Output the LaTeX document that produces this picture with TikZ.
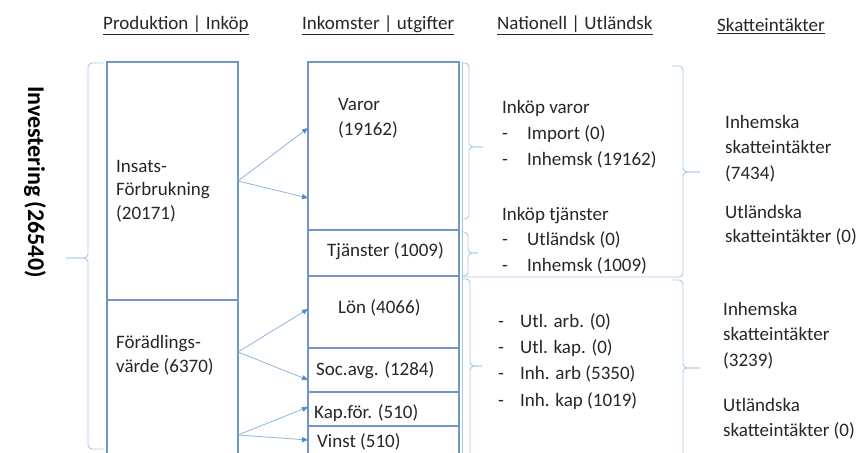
\documentclass[tikz,border=0pt]{standalone}
\usepackage{fontspec}
\setmainfont{Carlito}
\usetikzlibrary{arrows.meta,positioning,calc}
\usepackage{xcolor}

\definecolor{boxblue}{RGB}{112,150,200}
\definecolor{brcblue}{RGB}{168,200,232}
\definecolor{arrblue}{RGB}{140,180,222}
\definecolor{tipblue}{RGB}{80,140,205}
\definecolor{txtgray}{RGB}{38,38,38}

\begin{document}
\begin{tikzpicture}[x=1pt,y=-1pt,
    box/.style={
        draw=boxblue, line width=1.3pt, anchor=north west,
        inner sep=0pt, outer sep=0pt, minimum width=#1
    },
    txt/.style={
        anchor=base west, inner sep=0pt, align=left, text=txtgray,
        font=\fontsize{19}{24}\selectfont
    },
    mtxt/.style={
        txt, anchor=north west, font=\fontsize{19}{#1}\selectfont
    },
    arrow/.style={
        -{Triangle[length=6pt,width=5pt,color=tipblue]}, arrblue, line width=0.8pt
    },
    brc/.style={
        brcblue, line width=0.9pt, rounded corners=4pt
    }
]
\useasboundingbox (0,0) rectangle (858,452);
\clip (0,0) rectangle (858,452);

% Column headers
\node[txt] (hprod) at (103,30) {\underline{Produktion | Inköp}};
\node[txt] (hink) at (302,30) {\underline{Inkomster | utgifter}};
\node[txt] (hnat) at (497,30) {\underline{Nationell | Utländsk}};
\node[txt] (hskatt) at (717,32) {\underline{Skatteintäkter}};

% Left side label
\node[rotate=-90, inner sep=0pt, font=\bfseries\fontsize{24}{28}\selectfont] (inv) at (35,182) {Investering (26540)};

% Production column
\node[box=131pt, minimum height=238pt] (ins) at (107,62) {};
\node[box=131pt, minimum height=170pt] (foe) at (107,300) {};
\node[mtxt=23.5] (insT) at (116,155.5) {\strut Insats-\\Förbrukning\\(20171)};
\node[mtxt=24] (foeT) at (116,331.2) {\strut Förädlings-\\värde (6370)};

% Income / expense column
\node[box=151pt, minimum height=168pt] (var) at (308,62) {};
\node[box=151pt, minimum height=46pt] (tja) at (308,230) {};
\node[box=151pt, minimum height=72pt] (lon) at (308,276) {};
\node[box=151pt, minimum height=44pt] (soc) at (308,348) {};
\node[box=151pt, minimum height=34pt] (kap) at (308,392) {};
\node[box=151pt, minimum height=28pt] (vin) at (308,426) {};
\draw[boxblue!60, line width=0.8pt] (var.north east) ++(3.5,0) -- ++(0,400);

\node[mtxt=25] (varT) at (338,92.5) {\strut Varor\\(19162)};
\node[txt] (tjaT) at (327,256) {Tjänster (1009)};
\node[txt] (lonT) at (338,313) {Lön (4066)};
\node[txt] (socT) at (316,375) {Soc.avg. (1284)};
\node[txt] (kapT) at (314,418) {Kap.för. (510)};
\node[txt] (vinT) at (317,447) {Vinst (510)};

% Arrows
\draw[arrow] (ins.east) -- ([yshift=18pt]var.west);
\draw[arrow] (ins.east) -- ([yshift=-52pt]var.west);
\draw[arrow] ([yshift=33pt]foe.east) -- ([yshift=3pt]lon.west);
\draw[arrow] ([yshift=33pt]foe.east) -- ([yshift=-10pt]soc.west);
\draw[arrow] ([yshift=-50pt]foe.east) -- ([yshift=2pt]kap.west);
\draw[arrow] ([yshift=-50pt]foe.east) -- (vin.west);

% Braces
\draw[brc] (104,63) -| (88,258) -- (66,258);
\draw[brc] (66,258) -- (88,258) |- (104,449);
\draw[brc] (462,63) -| (469,147) -- (483,147);
\draw[brc] (483,147) -- (469,147) |- (462,219);
\draw[brc] (462,232) -| (468,253) -- (478,253);
\draw[brc] (478,253) -- (468,253) |- (462,276);
\draw[brc] (462,279) -| (470,366) -- (482,366);
\draw[brc] (482,366) -- (470,366) |- (462,470);
\draw[brc] (672,66) -| (683,172) -- (700,172);
\draw[brc] (700,172) -- (683,172) |- (462,277);
\draw[brc] (672,280) -| (683,368) -- (700,368);
\draw[brc] (700,368) -- (683,368) |- (672,470);

% National / foreign column
\node[mtxt=26] (varN) at (502,94.8)
    {\strut Inköp varor\\\makebox[25pt][l]{-}Import (0)\\\makebox[25pt][l]{-}Inhemsk (19162)};
\node[mtxt=25.5] (tjaN) at (502,202.2)
    {\strut Inköp tjänster\\\makebox[25pt][l]{-}Utländsk (0)\\\makebox[25pt][l]{-}Inhemsk (1009)};
\node[mtxt=26.3] (foeN) at (498,308.6)
    {\strut\makebox[22pt][l]{-}Utl. arb. (0)\\\makebox[22pt][l]{-}Utl. kap. (0)\\\makebox[22pt][l]{-}Inh. arb (5350)\\\makebox[22pt][l]{-}Inh. kap (1019)};

% Tax column
\node[mtxt=25.5] (skI1) at (725,110.2) {\strut Inhemska\\skatteintäkter\\(7434)};
\node[mtxt=24] (skU1) at (725,201.2) {\strut Utländska\\skatteintäkter (0)};
\node[mtxt=25.5] (skI2) at (723,297.2) {\strut Inhemska\\skatteintäkter\\(3239)};
\node[mtxt=25] (skU2) at (723,393.5) {\strut Utländska\\skatteintäkter (0)};

\end{tikzpicture}
\end{document}
